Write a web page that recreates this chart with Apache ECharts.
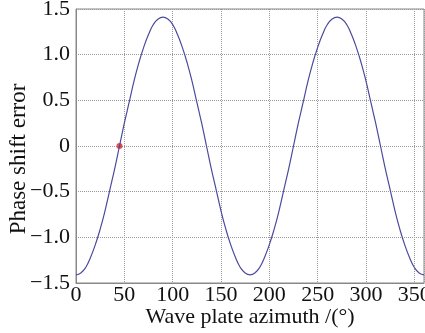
<!DOCTYPE html>
<html>
<head>
<meta charset="utf-8">
<script src="https://cdn.jsdelivr.net/npm/echarts@6/dist/echarts.min.js"></script>
<style>html,body{margin:0;padding:0;background:#fff}#c{width:425px;height:333px}</style>
</head>
<body>
<div id="c"></div>
<script>
const azimuth = [0,5,10,15,20,25,30,35,40,45,50,55,60,65,70,75,80,85,90,95,100,105,110,115,120,125,130,135,140,145,150,155,160,165,170,175,180,185,190,195,200,205,210,215,220,225,230,235,240,245,250,255,260,265,270,275,280,285,290,295,300,305,310,315,320,325,330,335,340,345,350,355,360];
const phaseError = [-1.41,-1.39,-1.33,-1.22,-1.08,-0.91,-0.71,-0.48,-0.25,0,0.25,0.48,0.71,0.91,1.08,1.22,1.33,1.39,1.41,1.39,1.33,1.22,1.08,0.91,0.71,0.48,0.25,0,-0.25,-0.48,-0.71,-0.91,-1.08,-1.22,-1.33,-1.39,-1.41,-1.39,-1.33,-1.22,-1.08,-0.91,-0.71,-0.48,-0.25,0,0.25,0.48,0.71,0.91,1.08,1.22,1.33,1.39,1.41,1.39,1.33,1.22,1.08,0.91,0.71,0.48,0.25,0,-0.25,-0.48,-0.71,-0.91,-1.08,-1.22,-1.33,-1.39,-1.41];
const markedPoint = [45, 0];
const yTickLabels = {'-1.5':'\u22121.5','-1':'\u22121.0','-0.5':'\u22120.5','0':'0','0.5':'0.5','1':'1.0','1.5':'1.5'};

const font = 'Liberation Serif';
const chart = echarts.init(document.getElementById('c'));
chart.setOption({
  animation: false,
  grid: {left: 76, right: 1, top: 9, bottom: 50, show: true, borderColor: '#888', borderWidth: 1, outerBoundsMode: 'none', containLabel: false},
  xAxis: {
    type: 'value', min: 0, max: 360, interval: 50,
    name: 'Wave plate azimuth /(°)', nameLocation: 'middle', nameGap: 23, nameMoveOverlap: false,
    nameTextStyle: {fontFamily: font, fontSize: 22, color: '#111'},
    axisLine: {show: true, onZero: false, lineStyle: {color: '#888'}},
    axisTick: {show: false},
    axisLabel: {fontFamily: font, fontSize: 22, color: '#111', margin: 1, showMaxLabel: false},
    splitLine: {show: true, lineStyle: {type: 'dotted', color: '#999', width: 1}}
  },
  yAxis: {
    type: 'value', min: -1.5, max: 1.5, interval: 0.5,
    name: 'Phase shift error', nameLocation: 'middle', nameGap: 46, nameMoveOverlap: false,
    nameTextStyle: {fontFamily: font, fontSize: 23, color: '#111', padding: [0, 26, 0, 0]},
    axisLine: {show: true, onZero: false, lineStyle: {color: '#888'}},
    axisTick: {show: false},
    axisLabel: {fontFamily: font, fontSize: 22, color: '#111', margin: 6,
      formatter: v => yTickLabels[String(v)] !== undefined ? yTickLabels[String(v)] : String(v)},
    splitLine: {show: true, lineStyle: {type: 'dotted', color: '#999', width: 1}}
  },
  series: [
    {type: 'line', data: azimuth.map((a, i) => [a, phaseError[i]]), smooth: true, showSymbol: false,
     lineStyle: {color: '#4b4b9c', width: 1.2}},
    {type: 'scatter', data: [markedPoint], symbolSize: 6, itemStyle: {color: '#e02020'}}
  ]
});
</script>
</body>
</html>
